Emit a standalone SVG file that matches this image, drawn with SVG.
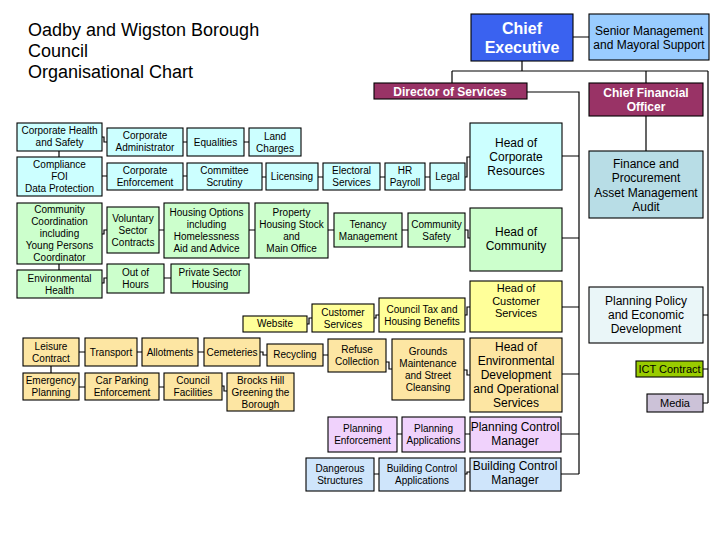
<svg xmlns="http://www.w3.org/2000/svg" width="726" height="540" viewBox="0 0 726 540">
<style>
text{font-family:"Liberation Sans",Arial,sans-serif;fill:#000;text-anchor:middle}
rect{stroke:#000;stroke-width:1.1}
rect.bg{stroke:none;fill:#fff}
.t10{font-size:10px}.t11{font-size:11px}.t12{font-size:12px}
.w{fill:#fff;font-weight:bold}
.cy{fill:#ccffff}.gr{fill:#ccffcc}.ye{fill:#ffff99}.or{fill:#fde6a3}
.pu{fill:#f0d2fc}.bl{fill:#cfe5fb}.fi{fill:#b8dde6}.pp{fill:#eaf6f8}
.ict{fill:#99cc00}.me{fill:#ccc2d8}.ce{fill:#3a62f0}.sm{fill:#99ccff}.dr{fill:#993366}
#connectors path{fill:none;stroke:#000;stroke-width:1.2}
</style>
<rect class="bg" width="726" height="540"/>
<g id="title" style="font-size:18px">
<text x="28" y="36" style="text-anchor:start">Oadby and Wigston Borough</text>
<text x="28" y="57" style="text-anchor:start">Council</text>
<text x="28" y="78" style="text-anchor:start">Organisational Chart</text>
</g>
<g id="connectors">
<path d="M573,37H589M522,61V71M452,71H708M452,71V83M646,71V83M646,116V151M708,71V403M703,315H708M703,369H708M703,403H708"/>
<path d="M527,92H579V474M562,156H579M562,238H579M562,307H579M562,374H579M561,434H579M561,474H579"/>
<path d="M465,177H467V157H470M465,230H468V238H470M465,315H467V307H470M464,370H467V375H470M465,434H470M465,474H467V472H470"/>
<path d="M374,318H376V315H379M307,324H309V318H312M260,352H263V355H267M323,355H328M386,362H389V369H392"/>
<path d="M79,352H85M137,352H142M198,352H204M51,366V373M79,387H85M159,387H164M222,386H224V391H227"/>
<path d="M102,137H104V142H107M59,151V157M183,142H187M244,142H249M102,176H107M183,176H187M262,177H266M318,177H323M380,177H385M425,177H430"/>
<path d="M102,234H104V230H107M159,230H164M249,230H255M328,230H334M402,230H408M59,264V270M102,283H104V278H107M164,278H171"/>
<path d="M397,434H402M374,474H379"/>
</g>
<g id="chief-executive"><rect class="ce" x="471" y="14" width="102" height="47"/><text class="w" style="font-size:16px" x="522" y="34">Chief</text><text class="w" style="font-size:16px" x="522" y="53">Executive</text></g>
<g id="senior-management"><rect class="sm" x="589" y="14" width="120" height="46"/><text class="t12" x="649" y="35">Senior Management</text><text class="t12" x="649" y="49">and Mayoral Support</text></g>
<g id="director"><rect class="dr" x="374" y="83" width="153" height="16"/><text class="t12 w" x="450" y="96">Director of Services</text></g>
<g id="cfo"><rect class="dr" x="589" y="83" width="114" height="33"/><text class="t12 w" x="646" y="97">Chief Financial</text><text class="t12 w" x="646" y="111">Officer</text></g>
<g id="finance"><rect class="fi" x="589" y="151" width="114" height="67"/><text class="t12" x="646" y="168">Finance and</text><text class="t12" x="646" y="182">Procurement</text><text class="t12" x="646" y="197">Asset Management</text><text class="t12" x="646" y="211">Audit</text></g>
<g id="head-corporate"><rect class="cy" x="470" y="123" width="92" height="67"/><text class="t12" x="516" y="147">Head of</text><text class="t12" x="516" y="161">Corporate</text><text class="t12" x="516" y="175">Resources</text></g>
<g id="head-community"><rect class="gr" x="470" y="208" width="92" height="63"/><text class="t12" x="516" y="236">Head of</text><text class="t12" x="516" y="250">Community</text></g>
<g id="head-customer"><rect class="ye" x="470" y="281" width="92" height="51"/><text class="t11" x="516" y="292">Head of</text><text class="t11" x="516" y="305">Customer</text><text class="t11" x="516" y="317">Services</text></g>
<g id="head-environmental"><rect class="or" x="470" y="338" width="92" height="74"/><text class="t12" x="516" y="351">Head of</text><text class="t12" x="516" y="365">Environmental</text><text class="t12" x="516" y="379">Development</text><text class="t12" x="516" y="393">and Operational</text><text class="t12" x="516" y="407">Services</text></g>
<g id="planning-control-manager"><rect class="pu" x="470" y="417" width="91" height="35"/><text class="t12" x="515" y="431">Planning Control</text><text class="t12" x="515" y="445">Manager</text></g>
<g id="building-control-manager"><rect class="bl" x="470" y="458" width="91" height="33"/><text class="t12" x="515" y="470">Building Control</text><text class="t12" x="515" y="484">Manager</text></g>
<g id="planning-policy"><rect class="pp" x="589" y="287" width="114" height="56"/><text class="t12" x="646" y="305">Planning Policy</text><text class="t12" x="646" y="319">and Economic</text><text class="t12" x="646" y="333">Development</text></g>
<g id="ict-contract"><rect class="ict" x="636" y="361" width="67" height="16"/><text class="t11" x="669.5" y="373">ICT Contract</text></g>
<g id="media"><rect class="me" x="647" y="394" width="56" height="18"/><text class="t11" x="675" y="407">Media</text></g>
<g id="corporate-health"><rect class="cy" x="17" y="123" width="85" height="28"/><text class="t10" x="59.5" y="134">Corporate Health</text><text class="t10" x="59.5" y="146">and Safety</text></g>
<g id="compliance"><rect class="cy" x="17" y="157" width="85" height="39"/><text class="t10" x="59.5" y="168">Compliance</text><text class="t10" x="59.5" y="180">FOI</text><text class="t10" x="59.5" y="192">Data Protection</text></g>
<g id="corporate-administrator"><rect class="cy" x="107" y="128" width="76" height="28"/><text class="t10" x="145" y="139">Corporate</text><text class="t10" x="145" y="151">Administrator</text></g>
<g id="equalities"><rect class="cy" x="187" y="128" width="57" height="28"/><text class="t10" x="215.5" y="146">Equalities</text></g>
<g id="land-charges"><rect class="cy" x="249" y="128" width="52" height="28"/><text class="t10" x="275" y="140">Land</text><text class="t10" x="275" y="152">Charges</text></g>
<g id="corporate-enforcement"><rect class="cy" x="107" y="163" width="76" height="27"/><text class="t10" x="145" y="174">Corporate</text><text class="t10" x="145" y="186">Enforcement</text></g>
<g id="committee-scrutiny"><rect class="cy" x="187" y="163" width="75" height="27"/><text class="t10" x="224.5" y="174">Committee</text><text class="t10" x="224.5" y="186">Scrutiny</text></g>
<g id="licensing"><rect class="cy" x="266" y="163" width="52" height="27"/><text class="t10" x="292" y="180">Licensing</text></g>
<g id="electoral"><rect class="cy" x="323" y="163" width="57" height="27"/><text class="t10" x="351.5" y="174">Electoral</text><text class="t10" x="351.5" y="186">Services</text></g>
<g id="hr-payroll"><rect class="cy" x="385" y="163" width="40" height="27"/><text class="t10" x="405" y="174">HR</text><text class="t10" x="405" y="186">Payroll</text></g>
<g id="legal"><rect class="cy" x="430" y="163" width="35" height="27"/><text class="t10" x="447.5" y="180">Legal</text></g>
<g id="community-coordination"><rect class="gr" x="17" y="203" width="85" height="61"/><text class="t10" x="59.5" y="213">Community</text><text class="t10" x="59.5" y="225">Coordination</text><text class="t10" x="59.5" y="237">including</text><text class="t10" x="59.5" y="249">Young Persons</text><text class="t10" x="59.5" y="261">Coordinator</text></g>
<g id="environmental-health"><rect class="gr" x="17" y="270" width="85" height="28"/><text class="t10" x="59.5" y="282">Environmental</text><text class="t10" x="59.5" y="294">Health</text></g>
<g id="voluntary"><rect class="gr" x="107" y="207" width="52" height="46"/><text class="t10" x="133" y="222">Voluntary</text><text class="t10" x="133" y="234">Sector</text><text class="t10" x="133" y="246">Contracts</text></g>
<g id="housing-options"><rect class="gr" x="164" y="203" width="85" height="55"/><text class="t10" x="206.5" y="216">Housing Options</text><text class="t10" x="206.5" y="228">including</text><text class="t10" x="206.5" y="240">Homelessness</text><text class="t10" x="206.5" y="252">Aid and Advice</text></g>
<g id="property"><rect class="gr" x="255" y="203" width="73" height="55"/><text class="t10" x="291.5" y="216">Property</text><text class="t10" x="291.5" y="228">Housing Stock</text><text class="t10" x="291.5" y="240">and</text><text class="t10" x="291.5" y="252">Main Office</text></g>
<g id="tenancy"><rect class="gr" x="334" y="213" width="68" height="34"/><text class="t10" x="368" y="228">Tenancy</text><text class="t10" x="368" y="240">Management</text></g>
<g id="community-safety"><rect class="gr" x="408" y="213" width="57" height="34"/><text class="t10" x="436.5" y="228">Community</text><text class="t10" x="436.5" y="240">Safety</text></g>
<g id="out-of-hours"><rect class="gr" x="107" y="264" width="57" height="29"/><text class="t10" x="135.5" y="276">Out of</text><text class="t10" x="135.5" y="288">Hours</text></g>
<g id="private-sector"><rect class="gr" x="171" y="264" width="78" height="29"/><text class="t10" x="210" y="276">Private Sector</text><text class="t10" x="210" y="288">Housing</text></g>
<g id="leisure"><rect class="or" x="23" y="338" width="56" height="28"/><text class="t10" x="51" y="350">Leisure</text><text class="t10" x="51" y="362">Contract</text></g>
<g id="transport"><rect class="or" x="85" y="338" width="52" height="28"/><text class="t10" x="111" y="356">Transport</text></g>
<g id="allotments"><rect class="or" x="142" y="338" width="56" height="28"/><text class="t10" x="170" y="356">Allotments</text></g>
<g id="cemeteries"><rect class="or" x="204" y="338" width="56" height="28"/><text class="t10" x="232" y="356">Cemeteries</text></g>
<g id="emergency"><rect class="or" x="23" y="373" width="56" height="27"/><text class="t10" x="51" y="384">Emergency</text><text class="t10" x="51" y="396">Planning</text></g>
<g id="car-parking"><rect class="or" x="85" y="373" width="74" height="27"/><text class="t10" x="122" y="384">Car Parking</text><text class="t10" x="122" y="396">Enforcement</text></g>
<g id="council-facilities"><rect class="or" x="164" y="373" width="58" height="27"/><text class="t10" x="193" y="384">Council</text><text class="t10" x="193" y="396">Facilities</text></g>
<g id="brocks-hill"><rect class="or" x="227" y="373" width="67" height="38"/><text class="t10" x="260.5" y="384">Brocks Hill</text><text class="t10" x="260.5" y="396">Greening the</text><text class="t10" x="260.5" y="408">Borough</text></g>
<g id="recycling"><rect class="or" x="267" y="344" width="56" height="22"/><text class="t10" x="295" y="358">Recycling</text></g>
<g id="refuse"><rect class="or" x="328" y="339" width="58" height="33"/><text class="t10" x="357" y="353">Refuse</text><text class="t10" x="357" y="365">Collection</text></g>
<g id="grounds"><rect class="or" x="392" y="339" width="72" height="61"/><text class="t10" x="428" y="355">Grounds</text><text class="t10" x="428" y="367">Maintenance</text><text class="t10" x="428" y="379">and Street</text><text class="t10" x="428" y="391">Cleansing</text></g>
<g id="website"><rect class="ye" x="243" y="316" width="64" height="16"/><text class="t10" x="275" y="327">Website</text></g>
<g id="customer-services"><rect class="ye" x="312" y="304" width="62" height="28"/><text class="t10" x="343" y="316">Customer</text><text class="t10" x="343" y="328">Services</text></g>
<g id="council-tax"><rect class="ye" x="379" y="298" width="86" height="34"/><text class="t10" x="422" y="313">Council Tax and</text><text class="t10" x="422" y="325">Housing Benefits</text></g>
<g id="planning-enforcement"><rect class="pu" x="328" y="417" width="69" height="35"/><text class="t10" x="362.5" y="432">Planning</text><text class="t10" x="362.5" y="444">Enforcement</text></g>
<g id="planning-applications"><rect class="pu" x="402" y="417" width="63" height="35"/><text class="t10" x="433.5" y="432">Planning</text><text class="t10" x="433.5" y="444">Applications</text></g>
<g id="dangerous-structures"><rect class="bl" x="306" y="458" width="68" height="33"/><text class="t10" x="340" y="472">Dangerous</text><text class="t10" x="340" y="484">Structures</text></g>
<g id="building-control-applications"><rect class="bl" x="379" y="458" width="86" height="33"/><text class="t10" x="422" y="472">Building Control</text><text class="t10" x="422" y="484">Applications</text></g>
</svg>
